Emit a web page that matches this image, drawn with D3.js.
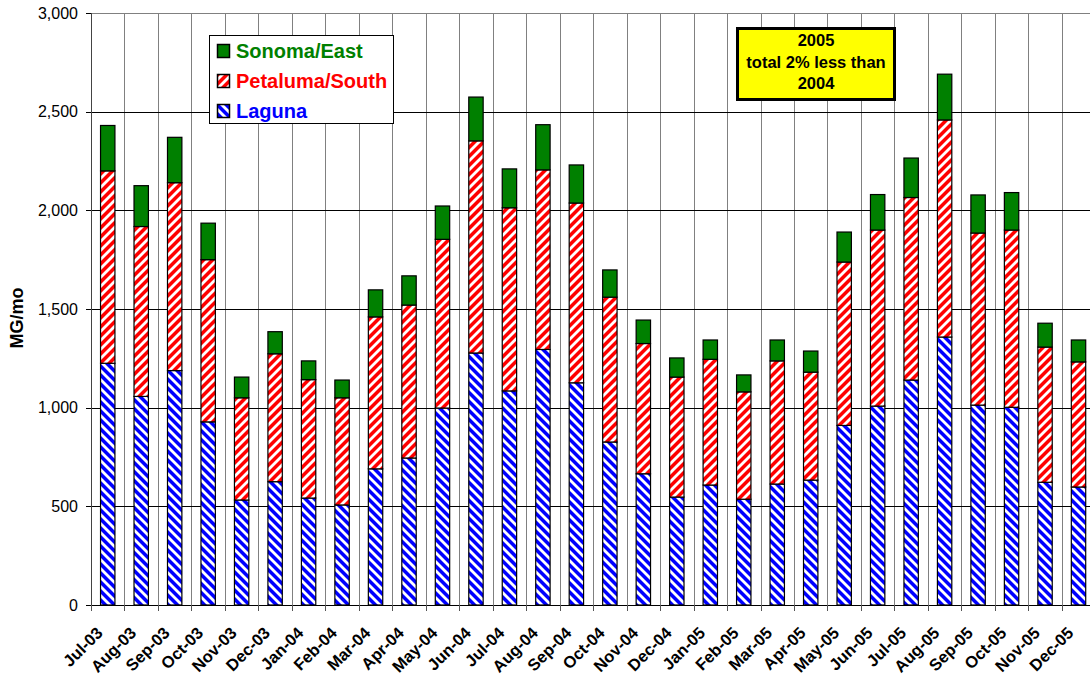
<!DOCTYPE html>
<html>
<head>
<meta charset="utf-8">
<script src="https://cdn.jsdelivr.net/npm/d3@7"></script>
<style>
  html, body { margin: 0; padding: 0; background: #fff; }
  svg { display: block; font-family: "Liberation Sans", Arial, sans-serif; }
</style>
</head>
<body>
<svg id="chart" width="1090" height="679"></svg>
<script>
const months = ["Jul-03","Aug-03","Sep-03","Oct-03","Nov-03","Dec-03","Jan-04","Feb-04","Mar-04","Apr-04","May-04","Jun-04","Jul-04","Aug-04","Sep-04","Oct-04","Nov-04","Dec-04","Jan-05","Feb-05","Mar-05","Apr-05","May-05","Jun-05","Jul-05","Aug-05","Sep-05","Oct-05","Nov-05","Dec-05"];
const laguna    = [1225,1057,1188,928,532,625,542,507,690,745,998,1277,1085,1295,1126,826,665,547,608,536,613,633,910,1008,1140,1358,1013,1002,622,598];
const petaluma  = [975,861,952,822,518,648,600,543,770,775,855,1075,928,910,911,734,660,608,637,544,624,547,828,892,925,1100,872,898,685,634];
const sonoma    = [230,207,230,185,105,112,95,90,137,148,169,222,197,229,193,138,119,97,98,86,106,107,152,180,200,232,193,190,121,111];
const seriesNames = ["Laguna","Petaluma/South","Sonoma/East"];
const yTicks = [0,500,1000,1500,2000,2500,3000];
const legendOrder = ["Sonoma/East","Petaluma/South","Laguna"];
const noteLines = ["2005","total 2% less than","2004"];

const colors = {"Laguna":"#0000FF","Petaluma/South":"#FF0000","Sonoma/East":"#008000"};
const fills = {"Laguna":"url(#patLaguna)","Petaluma/South":"url(#patPetaluma)","Sonoma/East":"#008000"};

const svg = d3.select("#chart");
const plotLeft = 91, plotTop = 13, plotBottom = 605, band = 33.475;

const x = d3.scaleBand().domain(months).range([plotLeft, plotLeft + band * months.length]).padding(0);
const y = d3.scaleLinear().domain([0, 3000]).range([plotBottom, plotTop]);

// patterns
const defs = svg.append("defs");
function stripes(id, bg, dir) {
  const s = 9;
  const p = defs.append("pattern").attr("id", id).attr("patternUnits", "userSpaceOnUse")
    .attr("width", s).attr("height", s);
  p.append("rect").attr("width", s).attr("height", s).attr("fill", bg);
  const segs = dir === "up"
    ? [[-3,3,3,-3],[0,s,s,0],[s-3,s+3,s+3,s-3]]
    : [[-3,s-3,3,s+3],[0,0,s,s],[s-3,-3,s+3,3]];
  segs.forEach(q => p.append("line").attr("x1", q[0]).attr("y1", q[1]).attr("x2", q[2]).attr("y2", q[3])
    .attr("stroke", "#fff").attr("stroke-width", 2.8));
}
stripes("patLaguna", "#0000FF", "down");
stripes("patPetaluma", "#FF0000", "up");

// vertical gridlines at category boundaries
const bounds = months.map(m => x(m)).concat([x(months[months.length-1]) + x.bandwidth()]);
svg.append("g").selectAll("line").data(bounds.slice(1)).join("line")
  .attr("x1", d => Math.round(d) + 0.5).attr("x2", d => Math.round(d) + 0.5)
  .attr("y1", plotTop).attr("y2", plotBottom)
  .attr("stroke", "#808080").attr("stroke-width", 1);

// horizontal gridlines
svg.append("g").selectAll("line").data(yTicks.filter(t => t > 0)).join("line")
  .attr("x1", plotLeft).attr("x2", 1096)
  .attr("y1", d => Math.round(y(d)) + 0.5).attr("y2", d => Math.round(y(d)) + 0.5)
  .attr("stroke", d => d === 3000 ? "#808080" : "#000").attr("stroke-width", 1);

// bars
const rows = months.map((m, i) => ({month: m, "Laguna": laguna[i], "Petaluma/South": petaluma[i], "Sonoma/East": sonoma[i]}));
const stack = d3.stack().keys(seriesNames)(rows);
const barW = x.bandwidth() * 0.43;
svg.append("g").selectAll("g").data(stack).join("g")
  .attr("fill", d => fills[d.key])
  .selectAll("rect").data(d => d).join("rect")
  .attr("x", d => x(d.data.month) + (x.bandwidth() - barW) / 2)
  .attr("width", barW)
  .attr("y", d => y(d[1]))
  .attr("height", d => y(d[0]) - y(d[1]))
  .attr("stroke", "#000").attr("stroke-width", 1.2);

// x axis
const xAxis = svg.append("g");
xAxis.append("line").attr("x1", plotLeft).attr("x2", 1096).attr("y1", plotBottom + 0.5).attr("y2", plotBottom + 0.5)
  .attr("stroke", "#000");
xAxis.selectAll("line.tk").data(bounds).join("line").attr("class", "tk")
  .attr("x1", d => Math.round(d) + 0.5).attr("x2", d => Math.round(d) + 0.5)
  .attr("y1", plotBottom).attr("y2", plotBottom + 6).attr("stroke", "#555");
xAxis.selectAll("text").data(months).join("text")
  .attr("transform", d => `translate(${x(d) + x.bandwidth()/2 - 4},${634}) rotate(-45)`)
  .attr("text-anchor", "end")
  .attr("font-size", 16.5).attr("font-weight", "bold").attr("fill", "#000")
  .text(d => d);

// y axis
const yAxis = svg.append("g");
yAxis.append("line").attr("x1", plotLeft + 0.5).attr("x2", plotLeft + 0.5).attr("y1", plotTop).attr("y2", plotBottom)
  .attr("stroke", "#444");
yAxis.selectAll("line.tk").data(yTicks).join("line").attr("class", "tk")
  .attr("x1", plotLeft - 5).attr("x2", plotLeft)
  .attr("y1", d => Math.round(y(d)) + 0.5).attr("y2", d => Math.round(y(d)) + 0.5)
  .attr("stroke", "#000");
yAxis.selectAll("text").data(yTicks).join("text")
  .attr("x", 78).attr("y", d => y(d)).attr("dy", "0.36em")
  .attr("text-anchor", "end").attr("font-size", 16).attr("fill", "#000")
  .text(d => d3.format(",")(d));
svg.append("text")
  .attr("transform", `translate(23,318) rotate(-90)`)
  .attr("text-anchor", "middle").attr("font-size", 18).attr("font-weight", "bold")
  .text("MG/mo");

// legend
const lg = svg.append("g");
lg.append("rect").attr("x", 209.5).attr("y", 35.5).attr("width", 184).attr("height", 88)
  .attr("fill", "#fff").attr("stroke", "#000");
legendOrder.forEach((k, i) => {
  const yy = 44 + i * 30;
  lg.append("rect").attr("x", 217.5).attr("y", yy + 0.5).attr("width", 12).attr("height", 13)
    .attr("fill", fills[k]).attr("stroke", "#000").attr("stroke-width", 1.5);
  lg.append("text").attr("x", 236).attr("y", yy + 14).attr("font-size", 20).attr("font-weight", "bold")
    .attr("fill", colors[k]).text(k);
});

// annotation
const an = svg.append("g");
an.append("rect").attr("x", 737.5).attr("y", 28.5).attr("width", 157).attr("height", 71)
  .attr("fill", "#FFFF00").attr("stroke", "#000").attr("stroke-width", 3);
noteLines.forEach((t, i) => {
  an.append("text").attr("x", 816).attr("y", 46 + i * 21.7).attr("text-anchor", "middle")
    .attr("font-size", 16.5).attr("font-weight", "bold").text(t);
});
</script>
</body>
</html>
